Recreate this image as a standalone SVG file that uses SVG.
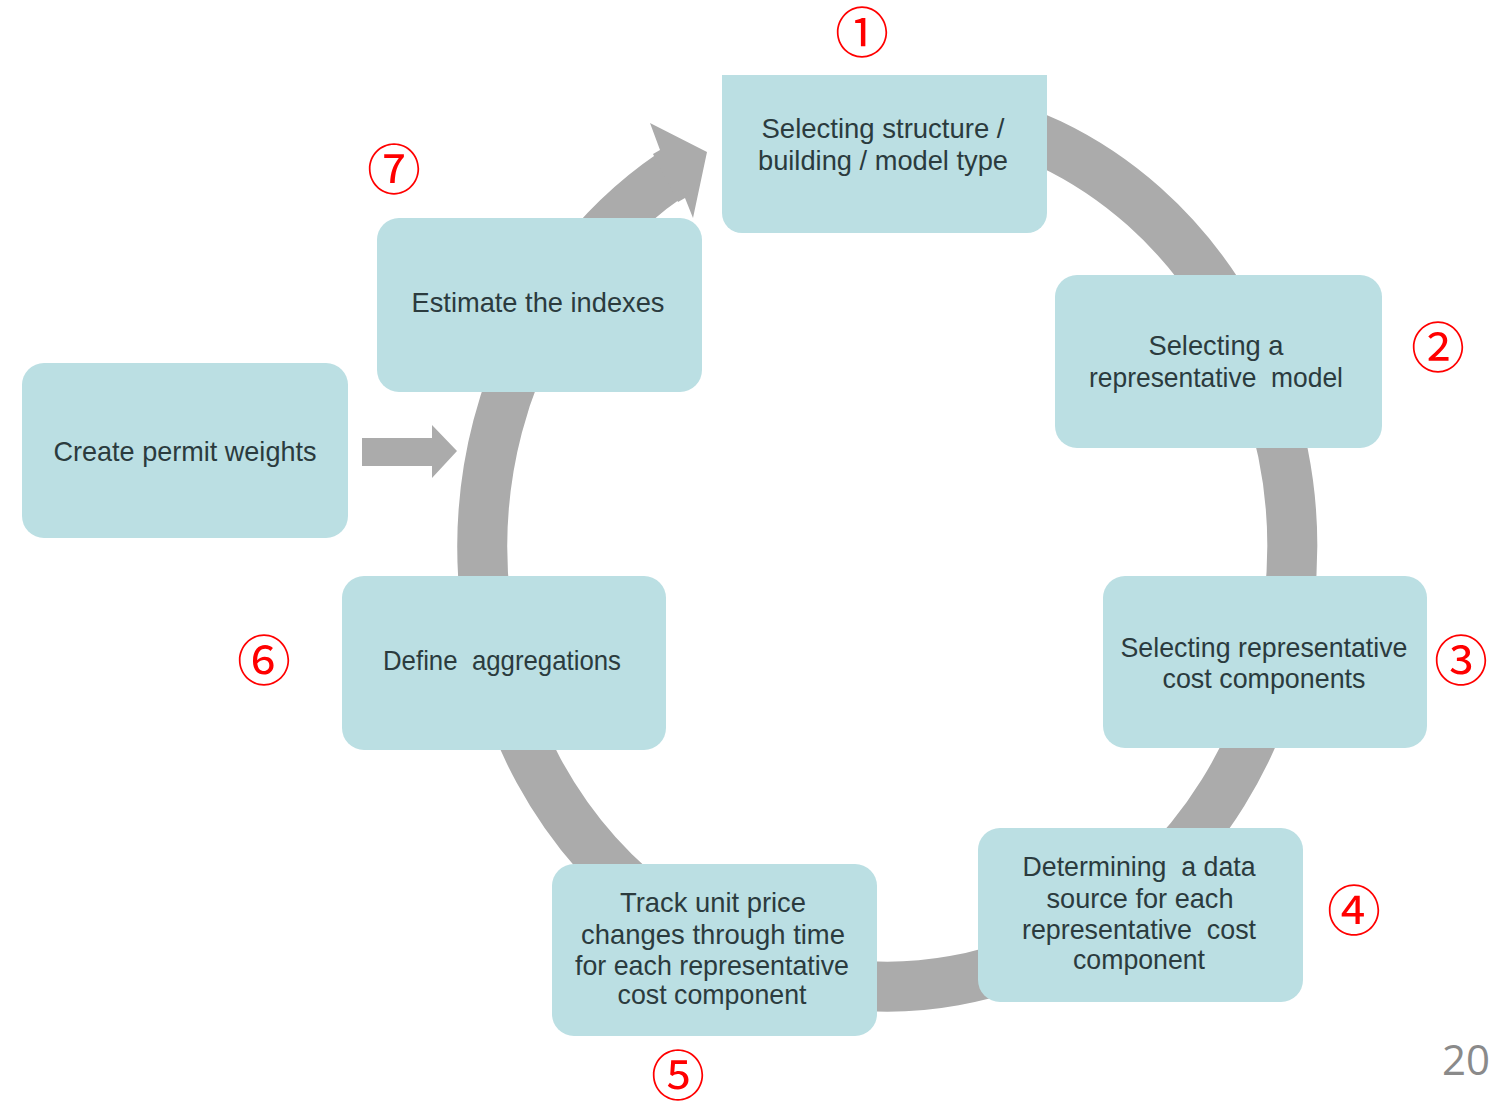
<svg xmlns="http://www.w3.org/2000/svg" width="1491" height="1102" viewBox="0 0 1491 1102">
<style>
.box{fill:#bbdfe3;}
.t{font-family:"Liberation Sans",Arial,sans-serif;font-size:28px;fill:#2b3b3e;text-anchor:middle;white-space:pre;}
.num{font-family:"Noto Sans CJK JP","DejaVu Sans",sans-serif;font-size:54px;fill:#ff0000;text-anchor:middle;}
.ring{fill:none;stroke:#ababab;stroke-width:50;}
.arr{fill:#ababab;}
.pg{font-family:"Open Sans","Liberation Sans",sans-serif;font-size:42px;fill:#8a8a8a;text-anchor:end;}
</style>
<rect width="1491" height="1102" fill="#ffffff"/>
<g id="connectors">
<path class="ring" d="M 760 129 A 405 440 0 1 1 672 174"/>
<polygon class="arr" points="653,154 660,150 650,123 707,152 693,218 685,198 678,202"/>
<polygon class="arr" points="362,438 432,438 432,425 457,451 432,478 432,466 362,466"/>
</g>
<g id="n1">
<path class="box" d="M722 75 H1047 V213 A20 20 0 0 1 1027 233 H742 A20 20 0 0 1 722 213 Z"/>
<text class="t" x="883" y="138" textLength="243" lengthAdjust="spacingAndGlyphs">Selecting structure /</text>
<text class="t" x="883" y="170" textLength="250" lengthAdjust="spacingAndGlyphs">building / model type</text>
</g>
<g id="n2">
<rect class="box" x="1055" y="275" width="327" height="173" rx="22"/>
<text class="t" x="1216" y="355" textLength="135" lengthAdjust="spacingAndGlyphs">Selecting a</text>
<text class="t" x="1216" y="387" textLength="254" lengthAdjust="spacingAndGlyphs">representative  model</text>
</g>
<g id="n3">
<rect class="box" x="1103" y="576" width="324" height="172" rx="22"/>
<text class="t" x="1264" y="657" textLength="287" lengthAdjust="spacingAndGlyphs">Selecting representative</text>
<text class="t" x="1264" y="688" textLength="203" lengthAdjust="spacingAndGlyphs">cost components</text>
</g>
<g id="n4">
<rect class="box" x="978" y="828" width="325" height="174" rx="22"/>
<text class="t" x="1139" y="876" textLength="233" lengthAdjust="spacingAndGlyphs">Determining  a data</text>
<text class="t" x="1140" y="908" textLength="187" lengthAdjust="spacingAndGlyphs">source for each</text>
<text class="t" x="1139" y="939" textLength="234" lengthAdjust="spacingAndGlyphs">representative  cost</text>
<text class="t" x="1139" y="969" textLength="132" lengthAdjust="spacingAndGlyphs">component</text>
</g>
<g id="n5">
<rect class="box" x="552" y="864" width="325" height="172" rx="22"/>
<text class="t" x="713" y="912" textLength="186" lengthAdjust="spacingAndGlyphs">Track unit price</text>
<text class="t" x="713" y="944" textLength="264" lengthAdjust="spacingAndGlyphs">changes through time</text>
<text class="t" x="712" y="975" textLength="274" lengthAdjust="spacingAndGlyphs">for each representative</text>
<text class="t" x="712" y="1004" textLength="189" lengthAdjust="spacingAndGlyphs">cost component</text>
</g>
<g id="n6">
<rect class="box" x="342" y="576" width="324" height="174" rx="22"/>
<text class="t" x="502" y="670" textLength="238" lengthAdjust="spacingAndGlyphs">Define  aggregations</text>
</g>
<g id="n7">
<rect class="box" x="377" y="218" width="325" height="174" rx="22"/>
<text class="t" x="538" y="312" textLength="253" lengthAdjust="spacingAndGlyphs">Estimate the indexes</text>
</g>
<g id="n0">
<rect class="box" x="22" y="363" width="326" height="175" rx="22"/>
<text class="t" x="185" y="461" textLength="263" lengthAdjust="spacingAndGlyphs">Create permit weights</text>
</g>
<g id="labels">
<text class="num" x="862" y="53">①</text>
<text class="num" x="1438" y="368">②</text>
<text class="num" x="1461" y="681">③</text>
<text class="num" x="1354" y="931">④</text>
<text class="num" x="678" y="1096">⑤</text>
<text class="num" x="264" y="681">⑥</text>
<text class="num" x="394" y="190">⑦</text>
<text class="pg" x="1490" y="1075">20</text>
</g>
</svg>
